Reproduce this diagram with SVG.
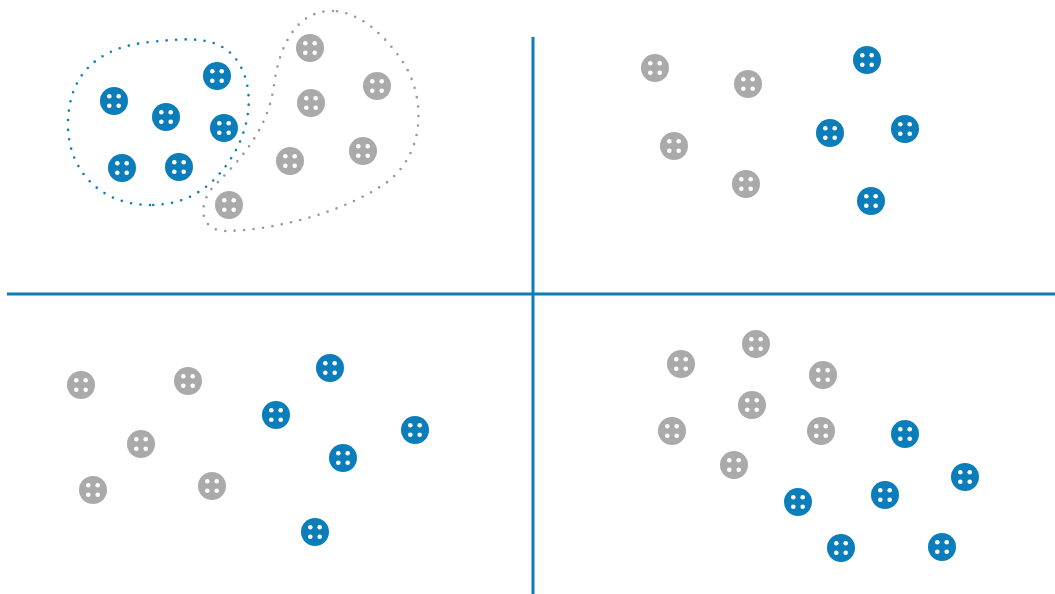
<svg xmlns="http://www.w3.org/2000/svg" xmlns:xlink="http://www.w3.org/1999/xlink" width="1055" height="594" viewBox="0 0 1055 594">
<style>
.axis{stroke:#0a7dba;stroke-width:3;fill:none}
.blob{fill:none;stroke-width:2.6;stroke-linecap:round;stroke-dasharray:0 9.5}
.bb{stroke:#0a7dba}
.gb{stroke:#999}
.blue{fill:#0a7dba}
.gray{fill:#aaaaaa}
.hole{fill:#fff}
</style>
<defs>
<g id="holes">
<circle class="hole" cx="-4.7" cy="-4.7" r="2.3"/>
<circle class="hole" cx="4.7" cy="-4.7" r="2.3"/>
<circle class="hole" cx="-4.7" cy="4.7" r="2.3"/>
<circle class="hole" cx="4.7" cy="4.7" r="2.3"/>
</g>
<g id="b"><circle class="blue" r="14"/><use xlink:href="#holes"/></g>
<g id="g"><circle class="gray" r="14"/><use xlink:href="#holes"/></g>
</defs>
<g id="connectors">
<line class="axis" x1="533" y1="37" x2="533" y2="594"/>
<line class="axis" x1="7" y1="294" x2="1055" y2="294"/>
<path class="blob bb" d="M150,205 C100,205 68,170 68,125 C68,72 100,47 150,42 C190,38 220,35 238,62 C256,90 250,130 230,160 C210,190 185,205 150,205 Z"/>
<path class="blob gb" d="M333,11 C300,10 280,40 274,85 C268,130 240,160 215,185 C198,202 198,230 225,231 C280,230 350,210 390,180 C425,150 425,100 405,65 C385,35 360,12 333,11 Z"/>
</g>
<g id="tl-b1"><use xlink:href="#b" x="114" y="101"/></g>
<g id="tl-b2"><use xlink:href="#b" x="166" y="117"/></g>
<g id="tl-b3"><use xlink:href="#b" x="217" y="76"/></g>
<g id="tl-b4"><use xlink:href="#b" x="224" y="128"/></g>
<g id="tl-b5"><use xlink:href="#b" x="122" y="168"/></g>
<g id="tl-b6"><use xlink:href="#b" x="179" y="167"/></g>
<g id="tl-g1"><use xlink:href="#g" x="310" y="48"/></g>
<g id="tl-g2"><use xlink:href="#g" x="377" y="86"/></g>
<g id="tl-g3"><use xlink:href="#g" x="311" y="103"/></g>
<g id="tl-g4"><use xlink:href="#g" x="290" y="161"/></g>
<g id="tl-g5"><use xlink:href="#g" x="363" y="151"/></g>
<g id="tl-g6"><use xlink:href="#g" x="229" y="205"/></g>
<g id="tr-g1"><use xlink:href="#g" x="655" y="68"/></g>
<g id="tr-g2"><use xlink:href="#g" x="748" y="84"/></g>
<g id="tr-g3"><use xlink:href="#g" x="674" y="146"/></g>
<g id="tr-g4"><use xlink:href="#g" x="746" y="184"/></g>
<g id="tr-b1"><use xlink:href="#b" x="867" y="60"/></g>
<g id="tr-b2"><use xlink:href="#b" x="830" y="133"/></g>
<g id="tr-b3"><use xlink:href="#b" x="905" y="129"/></g>
<g id="tr-b4"><use xlink:href="#b" x="871" y="201"/></g>
<g id="bl-g1"><use xlink:href="#g" x="81" y="385"/></g>
<g id="bl-g2"><use xlink:href="#g" x="188" y="381"/></g>
<g id="bl-g3"><use xlink:href="#g" x="141" y="444"/></g>
<g id="bl-g4"><use xlink:href="#g" x="93" y="490"/></g>
<g id="bl-g5"><use xlink:href="#g" x="212" y="486"/></g>
<g id="bl-b1"><use xlink:href="#b" x="330" y="368"/></g>
<g id="bl-b2"><use xlink:href="#b" x="276" y="415"/></g>
<g id="bl-b3"><use xlink:href="#b" x="415" y="430"/></g>
<g id="bl-b4"><use xlink:href="#b" x="343" y="458"/></g>
<g id="bl-b5"><use xlink:href="#b" x="315" y="532"/></g>
<g id="br-g1"><use xlink:href="#g" x="681" y="364"/></g>
<g id="br-g2"><use xlink:href="#g" x="756" y="344"/></g>
<g id="br-g3"><use xlink:href="#g" x="823" y="375"/></g>
<g id="br-g4"><use xlink:href="#g" x="752" y="405"/></g>
<g id="br-g5"><use xlink:href="#g" x="672" y="431"/></g>
<g id="br-g6"><use xlink:href="#g" x="821" y="431"/></g>
<g id="br-g7"><use xlink:href="#g" x="734" y="465"/></g>
<g id="br-b1"><use xlink:href="#b" x="905" y="434"/></g>
<g id="br-b2"><use xlink:href="#b" x="965" y="477"/></g>
<g id="br-b3"><use xlink:href="#b" x="885" y="495"/></g>
<g id="br-b4"><use xlink:href="#b" x="798" y="502"/></g>
<g id="br-b5"><use xlink:href="#b" x="841" y="548"/></g>
<g id="br-b6"><use xlink:href="#b" x="942" y="547"/></g>
</svg>
